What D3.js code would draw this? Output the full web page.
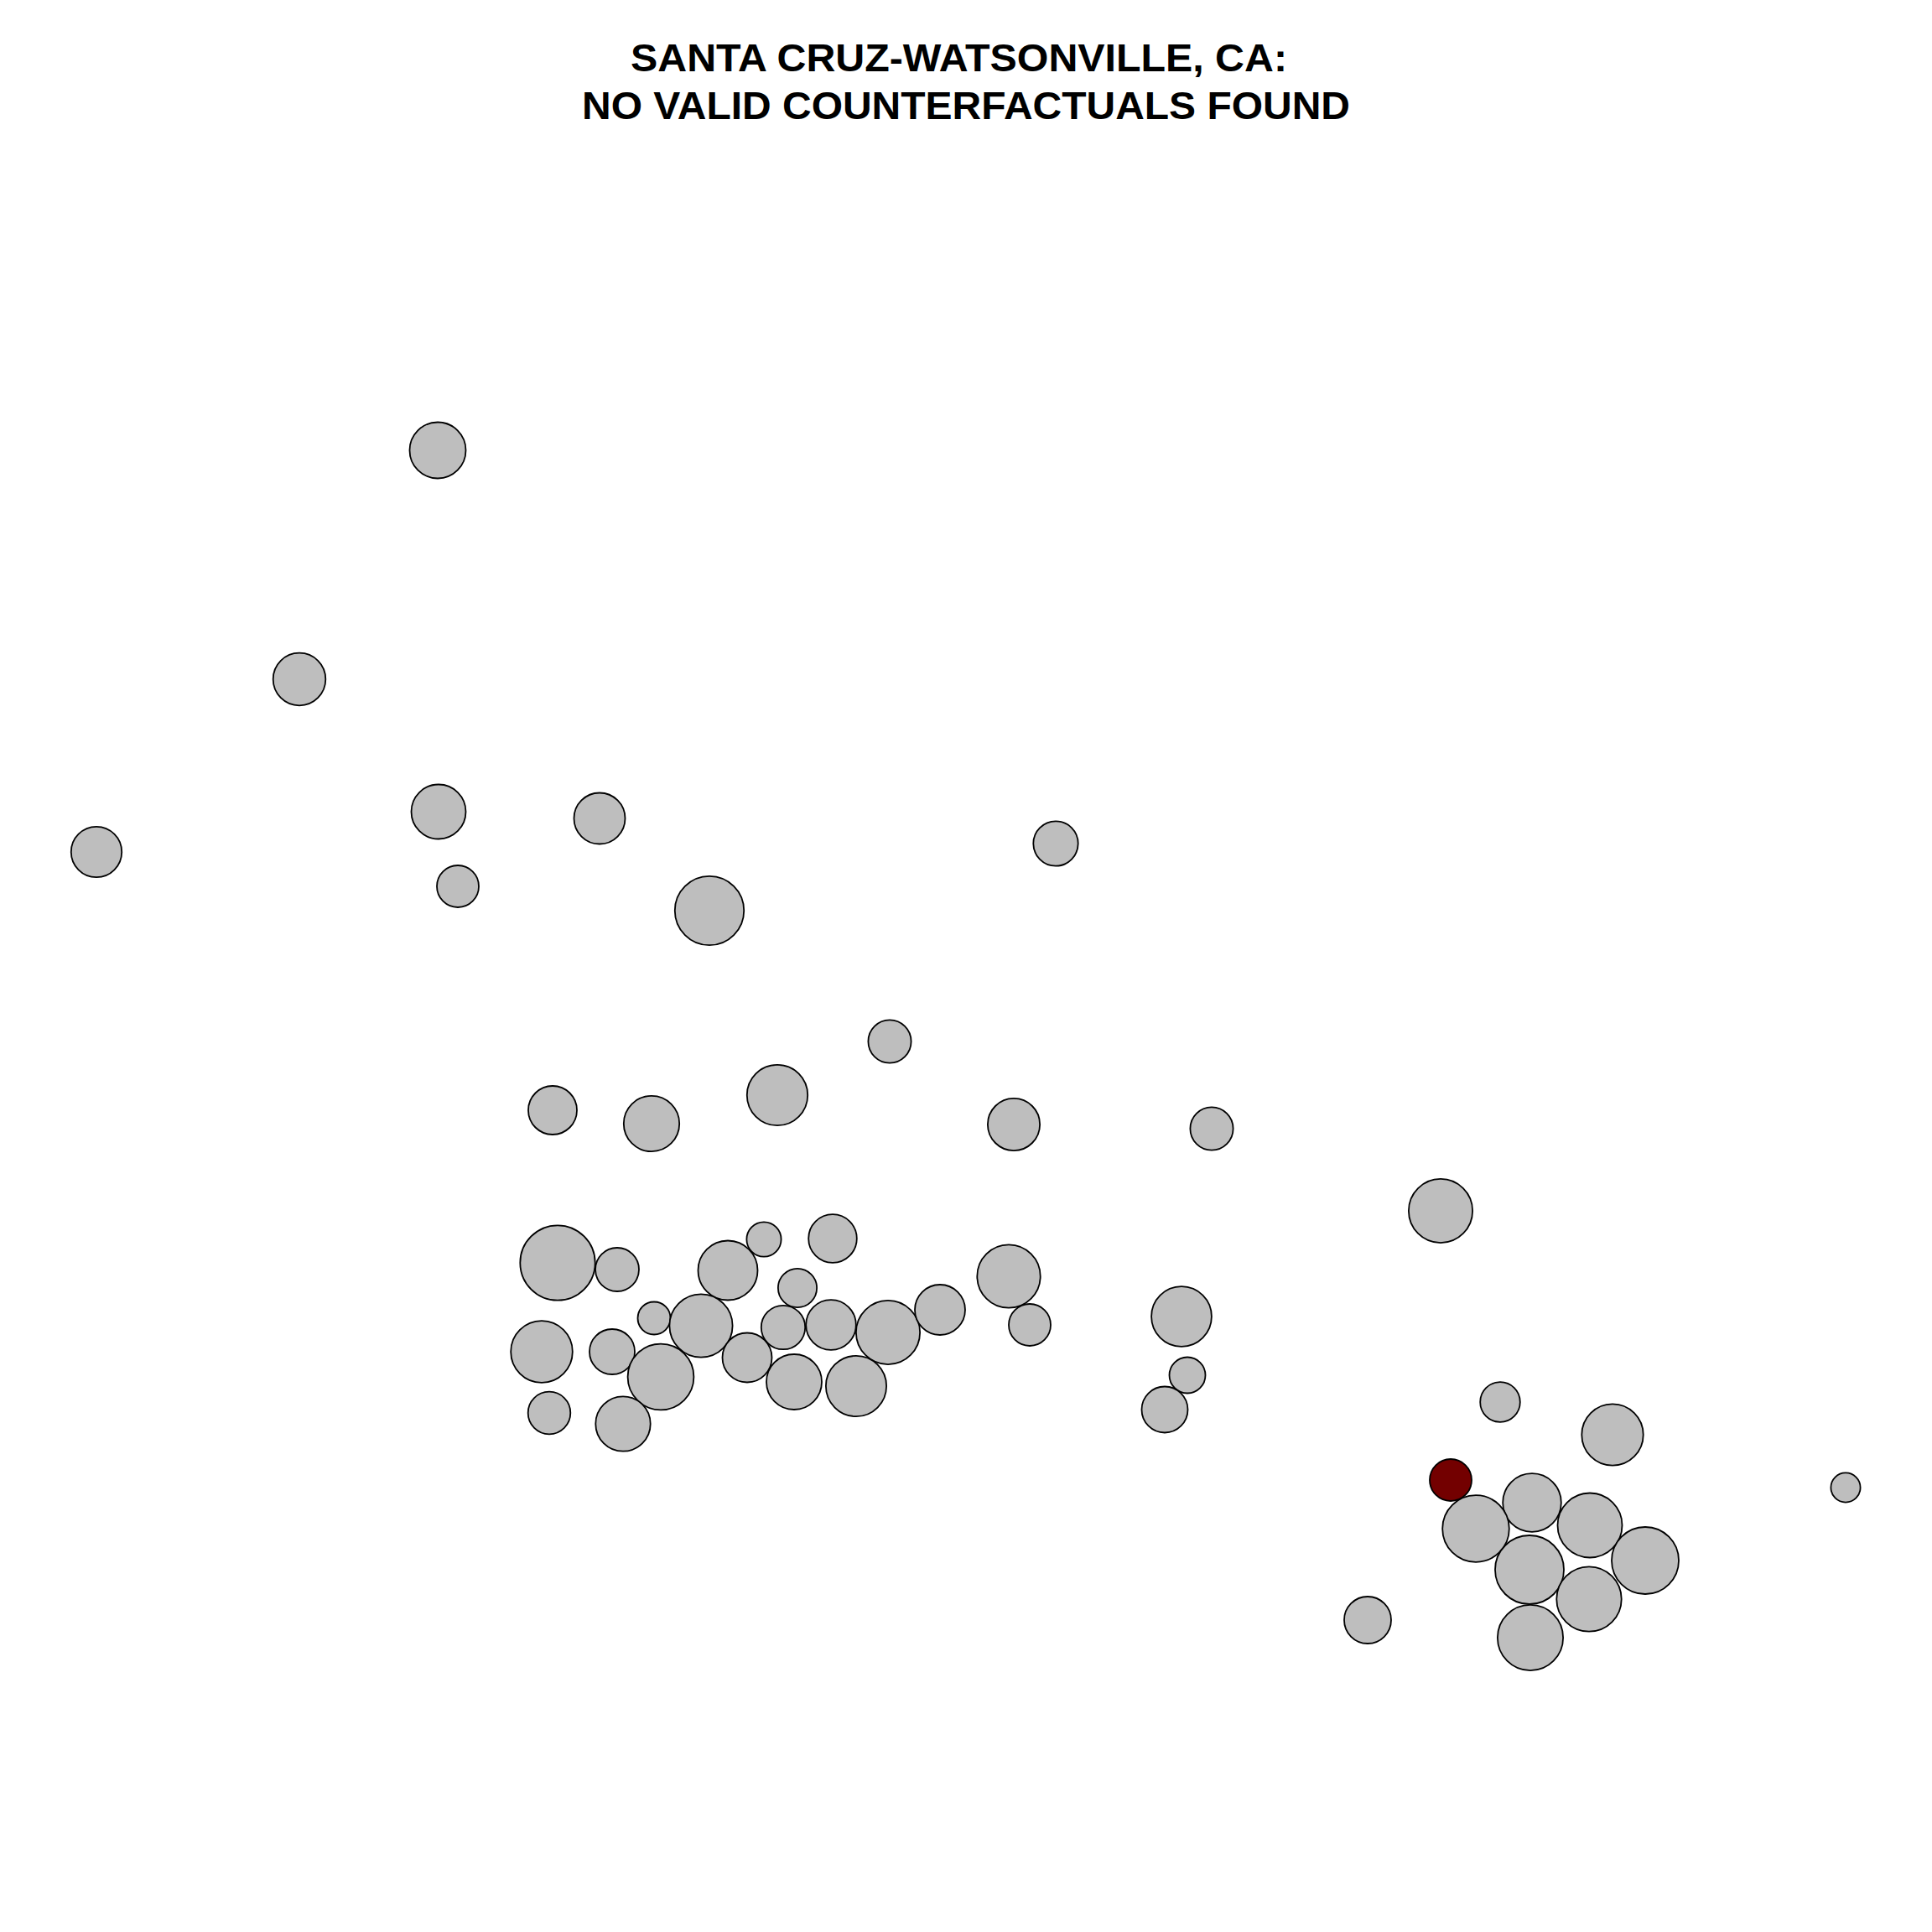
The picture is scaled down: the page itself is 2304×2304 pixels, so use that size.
<!DOCTYPE html>
<html>
<head>
<meta charset="utf-8">
<script src="https://cdn.jsdelivr.net/npm/d3@7"></script>
<style>
  html, body { margin: 0; padding: 0; background: #ffffff; }
  svg { display: block; }
</style>
</head>
<body>
<script>
// Title lines
const titleLines = ["SANTA CRUZ-WATSONVILLE, CA:", "NO VALID COUNTERFACTUALS FOUND"];

// Point positions (plot units) and bubble sizes
const xVals = [522, 357, 523, 715, 115, 546, 846, 1259, 1061, 659, 777, 927, 1209, 1445, 1718,
  665, 736, 911, 993, 868, 951, 1203, 780, 836, 934, 991, 1059, 1121, 1228, 1409,
  646, 730, 788, 891, 947, 1021, 1416, 655, 743, 1389, 1789, 1923, 2201, 1827,
  1760, 1896, 1824, 1962, 1895, 1631, 1825, 1730];
const yVals = [537, 810, 968, 976, 1016, 1057, 1086, 1006, 1242, 1324, 1340, 1306, 1341, 1346, 1444,
  1506, 1514, 1478, 1477, 1515, 1536, 1522, 1572, 1581, 1583, 1580, 1589, 1562, 1580, 1570,
  1612, 1612, 1642, 1619, 1648, 1653, 1640, 1685, 1698, 1681, 1672, 1711, 1774, 1792,
  1823, 1819, 1872, 1861, 1907, 1932, 1953, 1765];
const sizeVals = [33.5, 31.3, 32.5, 30.5, 30.2, 25, 41.2, 26.7, 25.6, 29, 33.2, 36.2, 31.1, 25.6, 38.1,
  44.7, 26, 20.6, 28.8, 35.5, 23.1, 37.7, 19.5, 37.6, 26.2, 29.8, 38.1, 30, 25, 35.9,
  36.8, 27, 39.4, 29.5, 33, 36.1, 21.5, 25.3, 32.7, 27.5, 23.8, 36.7, 17.6, 34.8,
  39.8, 38.5, 41, 40, 38.7, 28, 39.1, 25];
// Highlighted (treated) unit flag
const isTarget = [0,0,0,0,0,0,0,0,0,0,0,0,0,0,0,
  0,0,0,0,0,0,0,0,0,0,0,0,0,0,0,
  0,0,0,0,0,0,0,0,0,0,0,0,0,0,
  0,0,0,0,0,0,0,1];

const W = 2304, H = 2304;
const data = xVals.map((x, i) => ({x, y: yVals[i], s: sizeVals[i], t: isTarget[i]}));

const svg = d3.select("body").append("svg")
  .attr("width", W).attr("height", H)
  .attr("viewBox", `0 0 ${W} ${H}`);

svg.append("rect").attr("width", W).attr("height", H).attr("fill", "#ffffff");

const xScale = d3.scaleLinear().domain([0, 2304]).range([0, W]);
const yScale = d3.scaleLinear().domain([0, 2304]).range([0, H]);
const rScale = d3.scaleLinear().domain([0, 50]).range([0, 50]);
const fillScale = d3.scaleOrdinal().domain([0, 1]).range(["#bebebe", "#730000"]);

svg.append("g").selectAll("circle")
  .data(data)
  .join("circle")
  .attr("cx", d => xScale(d.x))
  .attr("cy", d => yScale(d.y))
  .attr("r", d => rScale(d.s))
  .attr("fill", d => fillScale(d.t))
  .attr("stroke", "#000000")
  .attr("stroke-width", 1.8);

const titleStart = [752, 694];
const titleWidth = [783, 916];

const title = svg.append("text")
  .attr("text-anchor", "start")
  .attr("font-family", "'Liberation Sans', Arial, Helvetica, sans-serif")
  .attr("font-weight", "bold")
  .attr("font-size", 46)
  .attr("fill", "#000000");

title.selectAll("tspan")
  .data(titleLines)
  .join("tspan")
  .attr("x", (d, i) => titleStart[i])
  .attr("y", (d, i) => 85 + i * 56.7)
  .attr("textLength", (d, i) => titleWidth[i])
  .attr("lengthAdjust", "spacingAndGlyphs")
  .text(d => d);
</script>
</body>
</html>
